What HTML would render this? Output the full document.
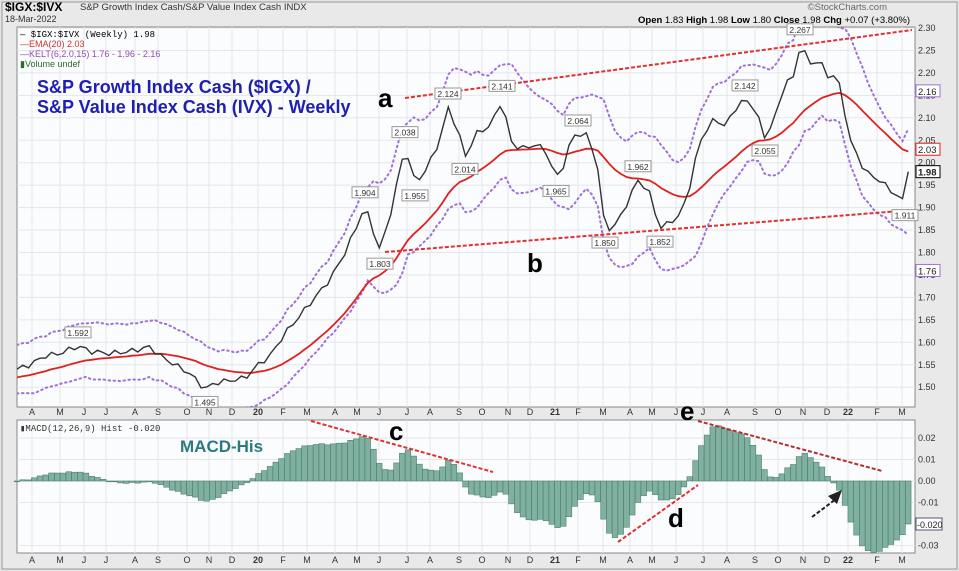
<!DOCTYPE html>
<html><head><meta charset="utf-8"><style>
body{margin:0;width:959px;height:571px;background:#e9e9e9;font-family:"Liberation Sans",sans-serif;overflow:hidden}
svg{display:block}
</style></head><body>
<svg id="s" width="959" height="571" xmlns="http://www.w3.org/2000/svg" font-family="Liberation Sans, sans-serif">
<rect x="0" y="0" width="959" height="571" fill="#e4e4e4"/>
<rect x="2" y="2" width="955" height="567" fill="#e9e9e9" stroke="#999"/>
<rect x="17" y="27" width="898" height="380" fill="#fbfcfd" stroke="#888"/>
<rect x="17" y="420" width="898" height="133" fill="#fbfcfd" stroke="#888"/>
<g id="grid"></g>
<text x="5" y="11" font-size="12" font-weight="bold">$IGX:$IVX</text>
<text x="80" y="10" font-size="9.5" fill="#333">S&amp;P Growth Index Cash/S&amp;P Value Index Cash  INDX</text>
<text x="5" y="22" font-size="9" fill="#333">18-Mar-2022</text>
<text x="887" y="10" font-size="9.5" fill="#666" text-anchor="end">©StockCharts.com</text>
<text x="910" y="23" font-size="9.5" text-anchor="end"><tspan font-weight="bold">Open</tspan> 1.83  <tspan font-weight="bold">High</tspan> 1.98  <tspan font-weight="bold">Low</tspan> 1.80  <tspan font-weight="bold">Close</tspan> 1.98  <tspan font-weight="bold">Chg</tspan> +0.07 (+3.80%)</text>
<text x="20" y="37" font-size="9" font-family="Liberation Mono,monospace">— $IGX:$IVX (Weekly) 1.98</text>
<text x="20" y="47" font-size="9" fill="#d03030">—EMA(20) 2.03</text>
<text x="20" y="57" font-size="9" fill="#9050b0">—KELT(6,2.0,15) 1.76 - 1.96 - 2.16</text>
<text x="20" y="67" font-size="9" fill="#2a6a2a">▮Volume undef</text>
<text x="37" y="93" font-size="18" font-weight="bold" fill="#2020b0">S&amp;P Growth Index Cash ($IGX) /</text>
<text x="37" y="113" font-size="18" font-weight="bold" fill="#2020b0">S&amp;P Value Index Cash (IVX) - Weekly</text>
<text x="378" y="107" font-size="26" font-weight="bold">a</text>
<text x="527" y="272" font-size="26" font-weight="bold">b</text>
<text x="389" y="440" font-size="26" font-weight="bold">c</text>
<text x="668" y="527" font-size="26" font-weight="bold">d</text>
<text x="680" y="420" font-size="26" font-weight="bold">e</text>
<text x="180" y="452" font-size="17" font-weight="bold" fill="#2a7a80">MACD-His</text>
<text x="20" y="431" font-size="9" font-family="Liberation Mono,monospace" fill="#333">▮MACD(12,26,9) Hist -0.020</text>
<g id="dyn"></g>
</svg>
<script>
const NS="http://www.w3.org/2000/svg";const g=document.getElementById('dyn'),gr=document.getElementById('grid');
function el(p,t,a,txt){const e=document.createElementNS(NS,t);for(const k in a)e.setAttribute(k,a[k]);if(txt!=null)e.textContent=txt;p.appendChild(e);return e}
const py=v=>28+(2.30-v)*449, my=v=>481-v*2150;
for(let v=1.50;v<=2.301;v+=0.05){const y=py(v);el(gr,'line',{x1:17,x2:915,y1:y,y2:y,stroke:'#e4e6ea'});el(g,'text',{x:918,y:y+3,'font-size':9,fill:'#333'},v.toFixed(2))}
[0.02,0.01,0,-0.01,-0.03].forEach(v=>{const y=my(v);el(gr,'line',{x1:17,x2:915,y1:y,y2:y,stroke:'#e4e6ea'});el(g,'text',{x:918,y:y+3,'font-size':9,fill:'#333'},v.toFixed(2))});
const months=[["A",32],["M",60],["J",84],["J",106],["A",135],["S",158],["O",187],["N",209],["D",232],["20",258],["F",283],["M",307],["A",335],["M",357],["J",379],["J",407],["A",430],["S",459],["O",482],["N",508],["D",530],["21",555],["F",578],["M",603],["A",630],["M",652],["J",676],["J",703],["A",727],["S",755],["O",778],["N",803],["D",827],["22",848],["F",877],["M",902]];
months.forEach(([t,x])=>{el(gr,'line',{x1:x,x2:x,y1:27,y2:407,stroke:'#e4e6ea'});el(gr,'line',{x1:x,x2:x,y1:420,y2:553,stroke:'#e4e6ea'});
[415,563].forEach(y=>el(g,'text',{x:x,y:y,'font-size':9,'text-anchor':'middle',fill:'#333','font-weight':t.length>1?'bold':'normal'},t))});
const K=[[17,1.54],[30,1.55],[45,1.57],[60,1.575],[78,1.592],[90,1.58],[110,1.575],[130,1.58],[150,1.59],[160,1.57],[175,1.55],[190,1.53],[205,1.495],[215,1.51],[230,1.515],[245,1.52],[258,1.55],[270,1.57],[285,1.62],[300,1.66],[315,1.70],[330,1.74],[345,1.80],[355,1.85],[365,1.904],[380,1.803],[392,1.90],[405,2.038],[415,1.955],[425,1.98],[440,2.05],[448,2.124],[458,2.07],[465,2.014],[478,2.07],[490,2.08],[502,2.141],[510,2.05],[520,2.03],[535,2.04],[545,2.03],[556,1.965],[565,2.00],[572,2.06],[578,2.064],[588,2.06],[597,2.00],[605,1.85],[615,1.86],[625,1.90],[638,1.962],[650,1.93],[660,1.852],[670,1.87],[680,1.88],[690,1.95],[700,2.05],[715,2.10],[725,2.08],[735,2.12],[745,2.142],[755,2.12],[765,2.055],[775,2.10],[785,2.18],[795,2.19],[800,2.267],[810,2.22],[820,2.23],[826,2.19],[832,2.20],[840,2.17],[850,2.05],[865,1.98],[880,1.96],[895,1.93],[905,1.911],[910,1.98]];
const xs=[],P=[];for(let x=17;x<=910.1;x+=5.75)xs.push(x);
xs.forEach((x,i)=>{let j=0;while(j<K.length-2&&K[j+1][0]<x)j++;const [x0,v0]=K[j],[x1,v1]=K[j+1];let t=Math.min(1,Math.max(0,(x-x0)/(x1-x0)));P.push(v0+(v1-v0)*t+0.006*Math.sin(i*2.3))});
P[P.length-1]=1.98;
function ema(a,n,seed){const k=2/(n+1);let e=seed??a[0];return a.map(v=>e=e+(v-e)*k)}
const E20=ema(P,20,1.52),E6=ema(P,6);
const tr=P.map((v,i)=>i?Math.abs(v-P[i-1])+0.01:0.015);const atr=ema(tr,15,0.015);
const up=E6.map((v,i)=>v+2*atr[i]*1.8),lo=E6.map((v,i)=>v-2*atr[i]*1.8);
const pl=(a,f)=>a.map((v,i)=>xs[i].toFixed(1)+','+f(v).toFixed(1)).join(' ');
const clip=el(g,'clipPath',{id:'c'});el(clip,'rect',{x:17,y:27,width:898,height:380});
const gg=el(g,'g',{'clip-path':'url(#c)'});
el(gg,'polyline',{points:pl(up,py),fill:'none',stroke:'#a070d8','stroke-width':2,'stroke-dasharray':'1.5,3.5','stroke-linecap':'round'});
el(gg,'polyline',{points:pl(lo,py),fill:'none',stroke:'#a070d8','stroke-width':2,'stroke-dasharray':'1.5,3.5','stroke-linecap':'round'});
el(gg,'polyline',{points:pl(E20,py),fill:'none',stroke:'#e02020','stroke-width':1.8});
el(gg,'polyline',{points:pl(P,py),fill:'none',stroke:'#333','stroke-width':1.4});
el(g,'line',{x1:405,y1:98,x2:912,y2:30,stroke:'#e03030','stroke-width':2,'stroke-dasharray':'4,2'});
el(g,'line',{x1:385,y1:252,x2:912,y2:210,stroke:'#e03030','stroke-width':2,'stroke-dasharray':'4,2'});
[[78,1.592,-1],[205,1.495,1],[365,1.904,-1],[380,1.803,1],[405,2.038,-1],[415,1.955,1],[448,2.124,-1],[465,2.014,1],[502,2.141,-1],[556,1.965,1],[578,2.064,-1],[605,1.850,1],[638,1.962,-1],[660,1.852,1],[745,2.142,-1],[765,2.055,1],[800,2.267,-1],[905,1.911,1]].forEach(([x,v,d])=>{const y=py(v)+(d<0?-13:13);
el(g,'rect',{x:x-13,y:y-6,width:26,height:11,fill:'#fff',stroke:'#999'});el(g,'text',{x:x,y:y+3,'font-size':8.5,'text-anchor':'middle',fill:'#333'},v.toFixed(3))});
[[2.16,'#a070d8'],[2.03,'#e02020'],[1.98,'#000'],[1.76,'#a070d8']].forEach(([v,c])=>{const y=py(v);el(g,'rect',{x:916,y:y-6,width:24,height:12,fill:'#fff',stroke:c});el(g,'text',{x:918,y:y+4,'font-size':9.5,fill:'#222','font-weight':c=='#000'?'bold':'normal'},v.toFixed(2))});
const m=ema(P,12).map((v,i)=>v-ema(P,26)[i]);const sig=ema(m,9);let H=m.map((v,i)=>v-sig[i]);
H[H.length-1]=-0.020;
H.forEach((h,i)=>{const y0=my(0),y1=my(h);el(g,'rect',{x:xs[i]-2.8,y:Math.min(y0,y1),width:5.6,height:Math.max(0.8,Math.abs(y1-y0)),fill:'#7fb0a0',stroke:'#4f7f70','stroke-width':0.6})});
el(g,'rect',{x:916,y:my(-0.02)-6,width:26,height:12,fill:'#fff',stroke:'#557'});el(g,'text',{x:917,y:my(-0.02)+4,'font-size':9,fill:'#222'},'-0.020');
el(g,'line',{x1:311,y1:421,x2:493,y2:472,stroke:'#e03030','stroke-width':2,'stroke-dasharray':'4,2'});
el(g,'line',{x1:618,y1:542,x2:698,y2:485,stroke:'#e03030','stroke-width':2,'stroke-dasharray':'4,2'});
el(g,'line',{x1:698,y1:421,x2:882,y2:471,stroke:'#b03030','stroke-width':2,'stroke-dasharray':'4,2'});
el(g,'line',{x1:812,y1:517,x2:836,y2:499,stroke:'#222','stroke-width':2,'stroke-dasharray':'4,2'});
el(g,'polygon',{points:'842,490 828,496 837,504',fill:'#222'});
</script>
</body></html>
